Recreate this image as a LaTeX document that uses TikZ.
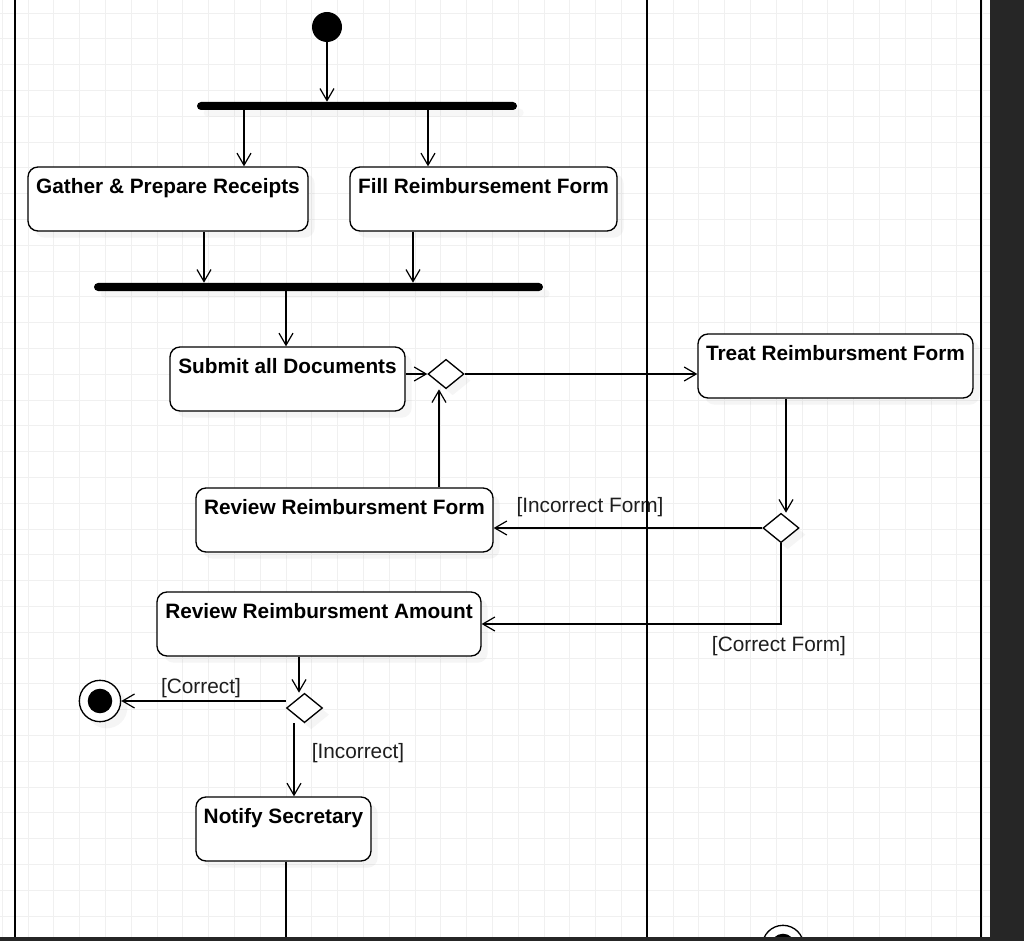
\documentclass[tikz,border=0pt]{standalone}
\usepackage{fontspec}
\setmainfont{Liberation Sans}
\usetikzlibrary{arrows.meta, shapes.geometric, shadows}
\definecolor{gridgray}{HTML}{F0F0F0}
\definecolor{panel}{HTML}{262626}
\definecolor{lblgray}{HTML}{1E1E1E}
\tikzset{
  % an action box, text sits near the top
  act/.style   = {draw, rounded corners=7.5pt, line width=1pt, fill=white,
                  inner sep=0pt, font=\bfseries\fontsize{15.6}{18}\selectfont,
                  text height=19.9pt, text depth=28.1pt,
                  drop shadow={shadow xshift=5pt, shadow yshift=-5pt,
                               opacity=0.08}},
  % a fork or join bar
  syncbar/.style = {fill=black, rounded corners=3pt, inner sep=0pt,
                  minimum height=6pt,
                  drop shadow={shadow xshift=5pt, shadow yshift=-5pt,
                               opacity=0.06}},
  % a decision
  dec/.style   = {draw, diamond, line width=1pt, fill=white, inner sep=0pt,
                  minimum width=27pt, minimum height=22pt,
                  drop shadow={shadow xshift=5pt, shadow yshift=-5pt,
                               opacity=0.08}},
  % start and end
  init/.style  = {circle, fill=black, inner sep=0pt, minimum size=22.5pt},
  fin/.style   = {circle, draw, line width=1pt, fill=white, inner sep=0pt,
                  minimum size=31pt,
                  label={[circle, fill=black, inner sep=0pt,
                          minimum size=18.4pt]center:},
                  drop shadow={shadow xshift=5pt, shadow yshift=-5pt,
                               opacity=0.08}},
  % a transition
  tr/.style    = {-{Straight Barb[length=9pt,width=10.5pt]}, line width=0.9pt},
  % a guard
  el/.style    = {font=\fontsize{15.6}{18}\selectfont, text=lblgray,
                  inner sep=1pt},
  % swimlane border
  lane/.style  = {line width=2.2pt},
  gridline/.style = {gridgray, line width=0.7pt},
}
\begin{document}
\begin{tikzpicture}[x=0.75pt, y=-0.75pt]
  \useasboundingbox (0,0) rectangle (1024,941);
  \fill[white] (0,0) rectangle (1024,941);
  % --- background grid ---
  \foreach \g in {0,...,39}
    \draw[gridline] (2.2+25.8*\g,0) -- (2.2+25.8*\g,941);
  \foreach \g in {0,...,36}
    \draw[gridline] (0,13+25.8*\g) -- (1024,13+25.8*\g);
  % --- nodes ---
  \node[init]    (init)    at (327,27)    {};
  \node[syncbar, minimum width=240pt]    (fork) at (357,106) {};
  \node[act, minimum width=210pt]    (gather)  at (168,199)   {Gather \& Prepare Receipts};
  \node[act, minimum width=200.25pt] (fill)    at (483.5,199) {Fill Reimbursement Form};
  \node[syncbar, minimum width=336.75pt] (join) at (318.5,287) {};
  \node[act, minimum width=176.25pt] (submit)  at (287.5,379) {Submit all Documents};
  \node[dec]     (d1)      at (446,374)   {};
  \node[act, minimum width=206.25pt] (treat)   at (835.5,366) {Treat Reimbursment Form};
  \node[dec]     (d2)      at (781,528)   {};
  \node[act, minimum width=222.75pt] (revform) at (344.5,520) {Review Reimbursment Form};
  \node[act, minimum width=243pt]    (amount)  at (319,624)   {Review Reimbursment Amount};
  \node[dec]     (d3)      at (304.5,708) {};
  \node[fin]     (fin)     at (100,701)   {};
  \node[act, minimum width=131.25pt] (notify)  at (283.5,829) {Notify Secretary};
  \node[fin]     (fin2)    at (783,946)   {};
  \coordinate (cut)  at (286,941);
  \coordinate (into) at (640,946);
  % --- transitions ---
  \draw[tr] (init.south) -- (init.south |- fork.north);
  \draw[tr] (fork.south -| 244,0) -- (gather.north -| 244,0);
  \draw[tr] (fork.south -| 428,0) -- (fill.north -| 428,0);
  \draw[tr] (gather.south -| 204,0) -- (join.north -| 204,0);
  \draw[tr] (fill.south -| 413,0) -- (join.north -| 413,0);
  \draw[tr] (join.south -| 286,0) -- (submit.north -| 286,0);
  \draw[tr] (d1.west -| submit.east) -- (d1.west);
  \draw[tr] (d1.east) -- (d1.east -| treat.west);
  \draw[tr] (treat.south -| 786,0) -- (d2.north -| 786,0);
  \draw[tr] (d2.west) -- (d2.west -| revform.east);
  \draw[tr] (revform.north -| 439,0) -- (d1.south -| 439,0);
  \draw[tr] (d2.south) |- (amount.east);
  \draw[tr] (amount.south -| 299,0) -- (d3.north -| 299,0);
  \draw[tr] (fin.east -| d3.west) -- (fin.east);
  \draw[tr] (d3.south -| 294,0) -- (notify.north -| 294,0);
  \draw[line width=0.9pt] (notify.south -| cut) -- (cut);
  \draw[tr] (into) -- (fin2.west);
  % --- guards ---
  \node[el] (g1) at (590,507) {[Incorrect Form]};
  \node[el] (g2) at (779,646) {[Correct Form]};
  \node[el] (g3) at (201,688) {[Correct]};
  \node[el] (g4) at (358,753) {[Incorrect]};
  % --- swimlanes and screen edges ---
  \draw[lane] (15,0) -- (15,937);
  \draw[lane] (647,0) -- (647,937);
  \draw[lane] (981,0) -- (981,937);
  \fill[panel] (990,0) rectangle (1024,941);
  \fill[panel] (0,937) rectangle (1024,941);
\end{tikzpicture}
\end{document}
